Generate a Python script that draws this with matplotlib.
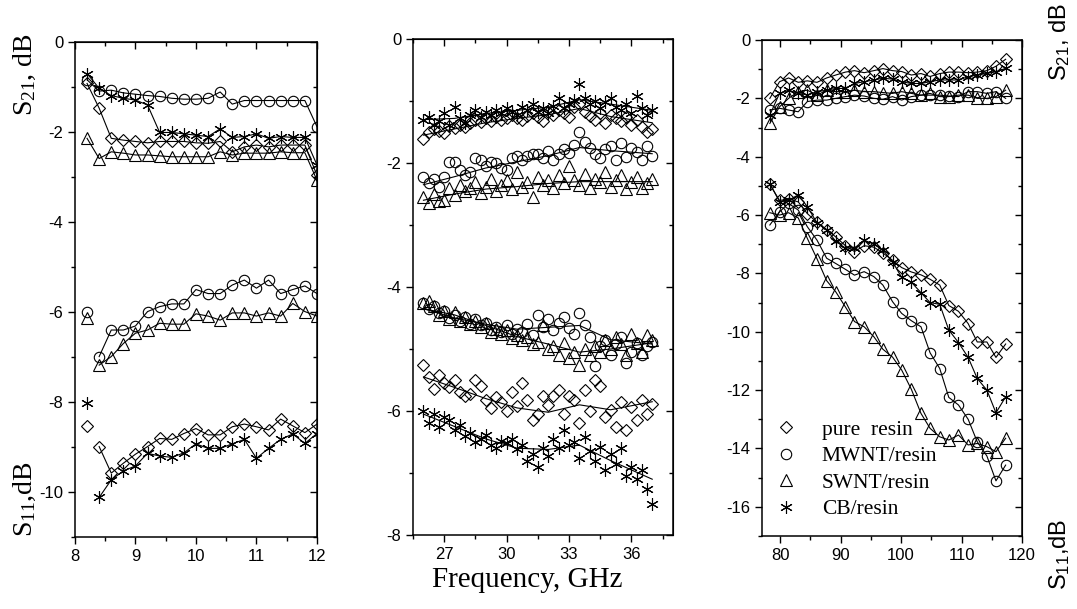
import numpy as np
import matplotlib
matplotlib.use('Agg')
import matplotlib.pyplot as plt
from matplotlib.ticker import MultipleLocator
from matplotlib.lines import Line2D

plt.rcParams['font.family'] = ['Liberation Sans', 'DejaVu Sans']
plt.rcParams['axes.unicode_minus'] = False

# ---- panel 1: 8-12 GHz ----
l_x = [8.2, 8.4, 8.6, 8.8, 9.0, 9.2, 9.4, 9.6, 9.8, 10.0,
       10.2, 10.4, 10.6, 10.8, 11.0, 11.2, 11.4, 11.6, 11.8, 12.0]
l_s21_pure = [-0.92, -1.47, -2.14, -2.18, -2.21, -2.24, -2.21, -2.21, -2.21, -2.24,
              -2.25, -2.21, -2.44, -2.33, -2.29, -2.33, -2.29, -2.29, -2.29, -2.96]
l_s21_mwnt = [-0.84, -1.09, -1.07, -1.13, -1.16, -1.19, -1.21, -1.25, -1.27, -1.27,
              -1.25, -1.11, -1.38, -1.30, -1.30, -1.30, -1.30, -1.30, -1.30, -1.88]
l_s21_swnt = [-2.14, -2.59, -2.44, -2.47, -2.51, -2.51, -2.53, -2.55, -2.55, -2.55,
              -2.55, -2.44, -2.51, -2.47, -2.47, -2.47, -2.44, -2.46, -2.46, -3.07]
l_s21_cb = [-0.70, -1.03, -1.19, -1.25, -1.29, -1.40, -2.01, -2.01, -2.04, -2.07,
            -2.10, -1.93, -2.12, -2.10, -2.04, -2.14, -2.10, -2.12, -2.12, -2.73]
l_s11_pure = [-8.53, -8.99, -9.58, -9.36, -9.16, -8.99, -8.81, -8.83, -8.70, -8.59,
              -8.73, -8.73, -8.55, -8.49, -8.55, -8.62, -8.38, -8.53, -8.68, -8.49]
l_s11_mwnt = [-5.99, -6.99, -6.40, -6.40, -6.31, -5.99, -5.88, -5.82, -5.82, -5.50,
              -5.59, -5.59, -5.40, -5.29, -5.47, -5.29, -5.59, -5.50, -5.42, -5.59]
l_s11_swnt = [-6.14, -7.18, -6.99, -6.70, -6.47, -6.40, -6.25, -6.27, -6.27, -6.04,
              -6.09, -6.18, -6.02, -6.02, -6.09, -6.02, -6.09, -5.81, -5.99, -6.09]
l_s11_cb = [-8.03, -10.12, -9.73, -9.53, -9.42, -9.14, -9.20, -9.23, -9.13, -8.93,
            -9.03, -9.03, -8.93, -8.83, -9.25, -9.03, -8.83, -8.71, -8.92, -8.70]

# ---- panel 2: 26-37 GHz ----
m_x = np.linspace(26, 37, 45)
m_s21_pure = [-1.62, -1.50, -1.45, -1.48, -1.52, -1.40, -1.44, -1.38, -1.42,
              -1.35, -1.30, -1.34, -1.28, -1.32, -1.25, -1.30, -1.27, -1.22,
              -1.28, -1.30, -1.24, -1.20, -1.26, -1.32, -1.18, -1.22, -1.15,
              -1.20, -1.25, -1.10, -1.05, -1.18, -1.24, -1.30, -1.20, -1.35,
              -1.22, -1.28, -1.32, -1.25, -1.38, -1.30, -1.42, -1.50, -1.45]
m_s21_cb = [-1.30, -1.25, -1.38, -1.32, -1.20, -1.38, -1.10, -1.28, -1.35,
            -1.22, -1.15, -1.25, -1.18, -1.22, -1.15, -1.20, -1.12, -1.18,
            -1.22, -1.10, -1.15, -1.05, -1.18, -1.12, -1.20, -1.08, -0.95,
            -1.12, -1.05, -0.98, -0.72, -0.95, -1.05, -1.00, -1.12, -1.02,
            -0.95, -1.10, -1.15, -1.05, -1.20, -0.92, -1.12, -1.22, -1.15]
m_s21_mwnt = [-2.22, -2.32, -2.25, -2.38, -2.22, -1.98, -1.98, -2.12, -2.20,
              -2.15, -1.92, -1.95, -2.05, -1.98, -2.00, -2.08, -2.12, -1.92,
              -1.88, -1.95, -1.88, -1.85, -1.85, -1.92, -1.80, -1.95, -1.85,
              -1.78, -1.84, -1.71, -1.50, -1.66, -1.75, -1.85, -1.92, -1.78,
              -1.72, -1.95, -1.67, -1.90, -1.75, -1.82, -1.95, -1.72, -1.88]
m_s21_swnt = [-2.55, -2.65, -2.50, -2.62, -2.60, -2.40, -2.52, -2.35, -2.45,
              -2.40, -2.30, -2.48, -2.38, -2.25, -2.45, -2.35, -2.28, -2.42,
              -2.15, -2.38, -2.30, -2.55, -2.22, -2.35, -2.28, -2.40, -2.20,
              -2.32, -2.05, -2.28, -2.35, -2.18, -2.40, -2.25, -2.30, -2.15,
              -2.38, -2.28, -2.20, -2.42, -2.30, -2.22, -2.40, -2.32, -2.25]
m_s11_mwnt = [-4.25, -4.35, -4.30, -4.42, -4.38, -4.50, -4.45, -4.55, -4.48,
              -4.60, -4.52, -4.62, -4.58, -4.70, -4.65, -4.72, -4.62, -4.75,
              -4.68, -4.72, -4.60, -4.78, -4.45, -4.65, -4.52, -4.70, -4.58,
              -4.48, -4.66, -4.75, -4.42, -4.62, -4.80, -5.28, -4.95, -4.85,
              -5.10, -4.92, -4.80, -5.22, -5.05, -4.90, -5.10, -4.95, -4.88]
m_s11_swnt = [-4.25, -4.22, -4.30, -4.45, -4.38, -4.52, -4.40, -4.55, -4.48,
              -4.60, -4.55, -4.65, -4.58, -4.72, -4.68, -4.75, -4.70, -4.82,
              -4.78, -4.85, -4.80, -4.92, -4.88, -4.62, -5.00, -4.95, -5.10,
              -4.90, -5.15, -5.05, -5.25, -5.00, -5.10, -4.95, -5.05, -4.85,
              -5.00, -4.80, -4.92, -5.10, -4.75, -4.90, -5.05, -4.78, -4.85]
m_s11_pure = [-5.25, -5.45, -5.65, -5.42, -5.55, -5.62, -5.50, -5.70, -5.75,
              -5.72, -5.50, -5.60, -5.82, -5.95, -5.78, -5.85, -6.00, -5.70,
              -5.92, -5.55, -5.82, -6.15, -6.05, -5.76, -5.90, -5.76, -5.66,
              -6.05, -5.76, -5.82, -6.20, -5.66, -6.00, -5.50, -5.60, -6.10,
              -5.98, -6.25, -5.85, -6.30, -5.93, -6.15, -5.82, -6.05, -5.88]
m_s11_cb = [-6.00, -6.20, -6.05, -6.25, -6.10, -6.15, -6.30, -6.22, -6.40,
            -6.35, -6.50, -6.45, -6.38, -6.55, -6.60, -6.48, -6.52, -6.45,
            -6.62, -6.55, -6.80, -6.70, -6.90, -6.60, -6.72, -6.45, -6.60,
            -6.30, -6.55, -6.50, -6.75, -6.42, -6.65, -6.80, -6.58, -6.95,
            -6.70, -6.85, -6.60, -7.05, -6.90, -7.10, -6.95, -7.25, -7.50]
# smoothed curves
m_fit_x = [26, 27.5, 29, 30.5, 32, 33.5, 35, 37]
m_fit = [
    [-1.55, -1.45, -1.35, -1.28, -1.22, -1.12, -1.25, -1.35],
    [-1.30, -1.28, -1.20, -1.15, -1.10, -0.98, -1.05, -1.15],
    [-2.35, -2.22, -2.08, -1.98, -1.88, -1.75, -1.80, -1.85],
    [-2.60, -2.50, -2.42, -2.38, -2.33, -2.30, -2.30, -2.30],
    [-4.35, -4.50, -4.60, -4.68, -4.65, -4.62, -4.85, -4.92],
    [-4.35, -4.45, -4.62, -4.80, -4.92, -5.05, -5.00, -4.90],
    [-5.45, -5.62, -5.80, -5.95, -6.02, -5.90, -5.98, -5.85],
    [-6.05, -6.25, -6.45, -6.60, -6.62, -6.55, -6.80, -7.10],
]

# ---- panel 3: 78-118 GHz ----
r_x = [78.3, 79.9, 81.4, 83.0, 84.5, 86.1, 87.7, 89.2, 90.8, 92.3, 93.9, 95.5, 97.0,
       98.6, 100.1, 101.7, 103.3, 104.8, 106.4, 107.9, 109.5, 111.1, 112.6, 114.2, 115.7, 117.3]
r_s21_pure = [-2.00, -1.43, -1.30, -1.45, -1.40, -1.45, -1.30, -1.20, -1.10, -1.05, -1.12, -1.05, -0.98,
              -1.05, -1.08, -1.20, -1.15, -1.25, -1.15, -1.10, -1.10, -1.12, -1.10, -1.05, -0.90, -0.66]
r_s21_cb = [-2.57, -1.83, -1.72, -1.83, -1.88, -1.77, -1.72, -1.66, -1.66, -1.49, -1.43, -1.37, -1.31,
            -1.34, -1.43, -1.49, -1.49, -1.43, -1.37, -1.37, -1.37, -1.26, -1.20, -1.14, -1.09, -0.97]
r_s21_mwnt = [-2.40, -2.34, -2.40, -2.46, -2.11, -2.06, -2.06, -2.00, -1.94, -1.89, -1.92, -2.00, -2.03,
              -1.94, -2.06, -1.94, -1.89, -1.89, -1.89, -1.92, -1.94, -1.77, -1.77, -1.83, -1.77, -2.00]
r_s21_swnt = [-2.86, -2.29, -2.00, -1.77, -1.72, -1.89, -1.72, -1.77, -1.77, -1.72, -1.77, -1.77, -1.80,
              -1.83, -1.77, -1.83, -1.89, -1.83, -1.94, -1.94, -1.89, -1.89, -2.00, -2.00, -1.94, -1.72]
r_s11_pure = [-4.95, -5.50, -5.45, -5.55, -5.95, -6.25, -6.50, -6.75, -7.05, -7.25, -7.05, -7.10, -7.30,
              -7.55, -7.80, -7.95, -8.05, -8.20, -8.40, -9.10, -9.30, -9.72, -10.35, -10.35, -10.88, -10.42]
r_s11_mwnt = [-6.34, -5.89, -5.60, -5.83, -6.40, -6.86, -7.48, -7.66, -7.86, -8.06, -7.94, -8.11, -8.40,
              -8.97, -9.37, -9.62, -9.83, -10.72, -11.26, -12.25, -12.51, -13.00, -13.77, -14.26, -15.11, -14.57]
r_s11_swnt = [-5.92, -6.00, -5.92, -6.10, -6.80, -7.50, -8.25, -8.63, -9.15, -9.65, -9.83, -10.17, -10.60,
              -10.87, -11.31, -11.97, -12.80, -13.31, -13.60, -13.71, -13.54, -13.88, -13.83, -13.94, -14.11, -13.65]
r_s11_cb = [-4.92, -5.54, -5.49, -5.31, -5.71, -6.27, -6.50, -6.90, -7.13, -7.13, -6.86, -7.00, -7.20,
            -7.60, -8.14, -8.30, -8.66, -9.00, -9.06, -9.94, -10.37, -10.88, -11.60, -12.00, -12.78, -12.23]

etiquetas = ['pure  resin', 'MWNT/resin', 'SWNT/resin', 'CB/resin']
marcadores = ['D', 'o', '^', (6, 2, 0)]
tamanos = [6.5, 7.5, 8.5, 9]

serif = ['Liberation Serif', 'DejaVu Serif']


def estilo(ax, xmaj, xmin):
    ax.xaxis.set_major_locator(MultipleLocator(xmaj))
    ax.xaxis.set_minor_locator(MultipleLocator(xmin))
    ax.yaxis.set_major_locator(MultipleLocator(2))
    ax.yaxis.set_minor_locator(MultipleLocator(1))
    ax.tick_params(which='both', direction='out', width=1, labelsize=12)
    ax.tick_params(which='major', length=5)
    ax.tick_params(which='minor', length=3)
    for s in ax.spines.values():
        s.set_linewidth(1.1)
    # mirrored ticks pointing inwards
    top = ax.secondary_xaxis('top')
    top.xaxis.set_major_locator(MultipleLocator(xmaj))
    top.xaxis.set_minor_locator(MultipleLocator(xmin))
    top.tick_params(which='both', direction='in', width=1, labeltop=False)
    top.tick_params(which='major', length=5)
    top.tick_params(which='minor', length=3)
    der = ax.secondary_yaxis('right')
    der.yaxis.set_major_locator(MultipleLocator(2))
    der.yaxis.set_minor_locator(MultipleLocator(1))
    der.tick_params(which='both', direction='in', width=1, labelright=False)
    der.tick_params(which='major', length=5)
    der.tick_params(which='minor', length=3)


def serie(ax, x, y, k, linea=True, desde=0):
    ax.plot(x, y, linestyle='none', marker=marcadores[k], ms=tamanos[k],
            mfc='none', mec='black', mew=0.8, zorder=3)
    if linea:
        ax.plot(x[desde:], y[desde:], color='black', lw=0.8, zorder=2)


fig = plt.figure(figsize=(10.77, 6.09), dpi=100)
ax1 = fig.add_axes([0.0696, 0.1182, 0.2247, 0.8128])
ax2 = fig.add_axes([0.3835, 0.1215, 0.2414, 0.8144])
ax3 = fig.add_axes([0.7075, 0.1199, 0.2414, 0.8144])

# panel 1
for k, y in enumerate([l_s21_pure, l_s21_mwnt, l_s21_swnt, l_s21_cb]):
    serie(ax1, l_x, y, k)
for k, y in enumerate([l_s11_pure, l_s11_mwnt, l_s11_swnt, l_s11_cb]):
    serie(ax1, l_x, y, k, desde=1)
ax1.set_xlim(8, 12)
ax1.set_ylim(-11, 0)
estilo(ax1, 1, 0.5)

# panel 2
m_series = [m_s21_pure, m_s21_mwnt, m_s21_swnt, m_s21_cb,
            m_s11_pure, m_s11_mwnt, m_s11_swnt, m_s11_cb]
for i, y in enumerate(m_series):
    serie(ax2, m_x, y, i % 4, linea=False)
for f in m_fit:
    ax2.plot(m_fit_x, f, color='black', lw=0.8, zorder=2)
ax2.set_xlim(25.5, 38)
ax2.set_ylim(-8, 0)
estilo(ax2, 3, 1.5)

# panel 3
for k, y in enumerate([r_s21_pure, r_s21_mwnt, r_s21_swnt, r_s21_cb]):
    serie(ax3, r_x, y, k)
for k, y in enumerate([r_s11_pure, r_s11_mwnt, r_s11_swnt, r_s11_cb]):
    serie(ax3, r_x, y, k)
ax3.set_xlim(77, 120)
ax3.set_ylim(-17, 0)
estilo(ax3, 10, 5)

manijas = [Line2D([], [], linestyle='none', marker=marcadores[k], ms=tamanos[k],
                  mfc='none', mec='black', mew=0.8) for k in range(4)]
ax3.legend(manijas, etiquetas, loc='lower left', bbox_to_anchor=(-0.01, 0.012),
           frameon=False, prop={'family': serif, 'size': 15.5},
           handlelength=1.5, handletextpad=0.9, labelspacing=0.3,
           borderaxespad=0.2, borderpad=0.3)

# axis titles
fig.text(0.023, 0.877, r'S$\mathregular{_{21}}$, dB', rotation=90, va='center', ha='center',
         family=serif, fontsize=20)
fig.text(0.023, 0.18, r'S$\mathregular{_{11}}$,dB', rotation=90, va='center', ha='center',
         family=serif, fontsize=20)
fig.text(0.984, 0.93, r'S$\mathregular{_{21}}$, dB', rotation=90, va='center', ha='center',
         fontsize=17)
fig.text(0.984, 0.09, r'S$\mathregular{_{11}}$,dB', rotation=90, va='center', ha='center',
         fontsize=17)
fig.text(0.49, 0.048, 'Frequency, GHz', ha='center', va='center', family=serif, fontsize=21)

fig.savefig('out.png', dpi=100)
